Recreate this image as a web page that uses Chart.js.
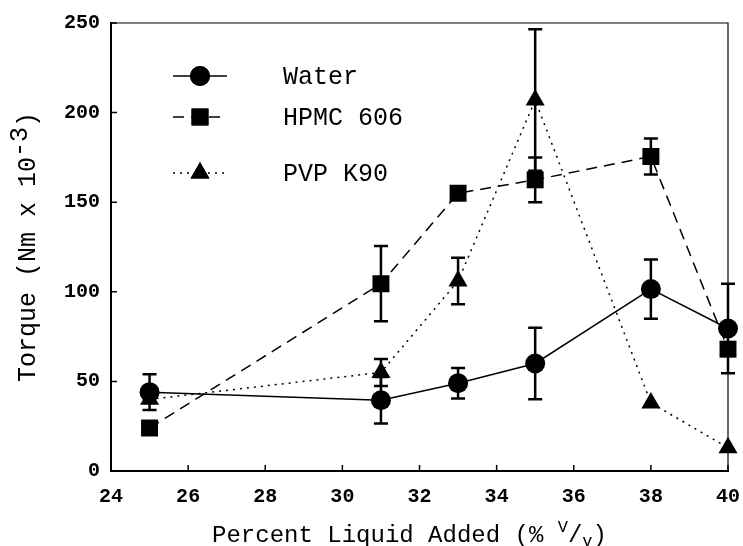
<!DOCTYPE html>
<html>
<head>
<meta charset="utf-8">
<script src="https://cdn.jsdelivr.net/npm/chart.js"></script>
<style>
  html, body { margin: 0; padding: 0; background: #fff; }
  canvas { display: block; }
</style>
</head>
<body>
<canvas id="grafico" width="743" height="546"></canvas>
<script>
// percent liquid added (% v/v)
let liquido = [25, 31, 33, 35, 38, 40]

// torque (Nm x 10-3) and +/- error for each binder
let agua = [44, 39.5, 49, 60, 101.5, 79.5]
let aguaErr = [10, 13, 8.5, 20, 16.5, 25]

let hpmc = [24, 104.5, 155, 162.5, 175.5, 68]
let hpmcErr = [0, 21, 0, 12.5, 10, 0]

let pvp = [40, 55, 106, 207, 38, 13]
let pvpErr = [0, 7.5, 13, 39.5, 0, 0]

let ticksX = [24, 26, 28, 30, 32, 34, 36, 38, 40]
let ticksY = [0, 50, 100, 150, 200, 250]

let nombres = ['Water', 'HPMC 606', 'PVP K90']

const mono = "'Liberation Mono', 'DejaVu Sans Mono', monospace"

function puntos(ys) {
  return liquido.map((x, i) => ({ x: x, y: ys[i] }))
}

var series = [
  { label: nombres[0], data: puntos(agua), err: aguaErr, dash: [], style: 'circle', radius: 10 },
  { label: nombres[1], data: puntos(hpmc), err: hpmcErr, dash: [11, 7], style: 'rect', radius: 12 },
  { label: nombres[2], data: puntos(pvp), err: pvpErr, dash: [2, 5], style: 'triangle', radius: 11 }
]

var data = {
  datasets: series.map(s => ({
    label: s.label,
    data: s.data,
    borderColor: '#000',
    backgroundColor: '#000',
    borderWidth: 1.5,
    borderDash: s.dash,
    pointStyle: s.style,
    pointRadius: s.radius,
    pointBorderWidth: 0,
    tension: 0,
    fill: false,
    clip: false
  }))
}

function marcador(ctx, style, r, x, y) {
  if (Chart.helpers && Chart.helpers.drawPoint) {
    Chart.helpers.drawPoint(ctx, { pointStyle: style, radius: r, rotation: 0, borderWidth: 0 }, x, y)
    ctx.fill()
  }
}

// error bars, frame, inner ticks, legend and axis titles
const extras = {
  id: 'extras',
  beforeDatasetsDraw(chart) {
    const ctx = chart.ctx
    const sx = chart.scales.x, sy = chart.scales.y
    ctx.save()
    ctx.strokeStyle = '#000'
    ctx.lineWidth = 2.5
    series.forEach(s => {
      s.data.forEach((p, i) => {
        const e = s.err[i]
        if (!e) return
        const x = sx.getPixelForValue(p.x)
        const y1 = sy.getPixelForValue(p.y + e)
        const y2 = sy.getPixelForValue(p.y - e)
        ctx.beginPath()
        ctx.moveTo(x, y1); ctx.lineTo(x, y2)
        ctx.moveTo(x - 7, y1); ctx.lineTo(x + 7, y1)
        ctx.moveTo(x - 7, y2); ctx.lineTo(x + 7, y2)
        ctx.stroke()
      })
    })
    ctx.restore()
  },
  afterDraw(chart) {
    const ctx = chart.ctx
    const a = chart.chartArea
    const sx = chart.scales.x, sy = chart.scales.y
    ctx.save()
    ctx.strokeStyle = '#000'
    ctx.fillStyle = '#000'

    // top + right frame
    ctx.lineWidth = 1.2
    ctx.beginPath()
    ctx.moveTo(a.left, a.top); ctx.lineTo(a.right, a.top); ctx.lineTo(a.right, a.bottom)
    ctx.stroke()

    // ticks pointing inward
    ctx.lineWidth = 1.5
    ctx.beginPath()
    ticksX.forEach(v => {
      const x = sx.getPixelForValue(v)
      ctx.moveTo(x, a.bottom); ctx.lineTo(x, a.bottom - 6)
    })
    ticksY.forEach(v => {
      const y = sy.getPixelForValue(v)
      ctx.moveTo(a.left, y); ctx.lineTo(a.left + 6, y)
    })
    ctx.stroke()

    // legend inside the plot
    const filas = [a.top + 53, a.top + 94, a.top + 150]
    series.forEach((s, i) => {
      const y = filas[i]
      const xm = a.left + 89
      ctx.lineWidth = 1.5
      ctx.setLineDash(s.dash)
      ctx.beginPath()
      ctx.moveTo(xm - 27, y); ctx.lineTo(xm + 27, y)
      ctx.stroke()
      ctx.setLineDash([])
      marcador(ctx, s.style, s.radius, xm, y)
      ctx.font = '25px ' + mono
      ctx.textAlign = 'left'
      ctx.textBaseline = 'middle'
      ctx.fillText(s.label, a.left + 172, y + 1)
    })

    // x title with v/v fraction
    const f = '24px ' + mono, fs = '17px ' + mono
    const base = a.bottom + 71
    const partes = [
      { t: 'Percent Liquid Added (% ', f: f, dy: 0 },
      { t: 'V', f: fs, dy: -10 },
      { t: '/', f: f, dy: 0 },
      { t: 'v', f: fs, dy: 4 },
      { t: ')', f: f, dy: 0 }
    ]
    let total = 0
    partes.forEach(p => { ctx.font = p.f; p.w = ctx.measureText(p.t).width; total += p.w })
    let x = (a.left + a.right) / 2 - 10 - total / 2
    ctx.textAlign = 'left'
    ctx.textBaseline = 'alphabetic'
    partes.forEach(p => { ctx.font = p.f; ctx.fillText(p.t, x, base + p.dy); x += p.w })

    // y title, rotated, with 10^-3
    const fy = '25px ' + mono
    const py = [
      { t: 'Torque (Nm x 10', f: fy, dy: 0 },
      { t: '-3', f: fy, dy: -8 },
      { t: ')', f: fy, dy: 0 }
    ]
    total = 0
    py.forEach(p => { ctx.font = p.f; p.w = ctx.measureText(p.t).width; total += p.w })
    ctx.translate(35, (a.top + a.bottom) / 2)
    ctx.rotate(-Math.PI / 2)
    x = -total / 2
    py.forEach(p => { ctx.font = p.f; ctx.fillText(p.t, x, p.dy); x += p.w })
    ctx.restore()
  }
}

const config = {
  type: 'line',
  data: data,
  options: {
    responsive: false,
    devicePixelRatio: 1,
    animation: false,
    layout: { padding: { top: 22, right: 15, left: 0, bottom: 0 } },
    plugins: { legend: { display: false }, tooltip: { enabled: false } },
    scales: {
      x: {
        type: 'linear',
        min: 24,
        max: 40,
        afterFit: s => { s.height = 75; s.paddingRight = 0 },
        afterBuildTicks: s => { s.ticks = ticksX.map(v => ({ value: v })) },
        ticks: { color: '#000', padding: 14, font: { family: mono, size: 20, weight: 'bold' } },
        grid: { drawOnChartArea: false, drawTicks: false },
        border: { color: '#000', width: 2 }
      },
      y: {
        type: 'linear',
        min: 0,
        max: 250,
        afterFit: s => { s.width = 111 },
        afterBuildTicks: s => { s.ticks = ticksY.map(v => ({ value: v })) },
        ticks: { color: '#000', padding: 11, font: { family: mono, size: 20, weight: 'bold' } },
        grid: { drawOnChartArea: false, drawTicks: false },
        border: { color: '#000', width: 2 }
      }
    }
  },
  plugins: [extras]
}

window.onload = function () {
  var myChart = new Chart(document.getElementById('grafico'), config)
}
</script>
</body>
</html>
